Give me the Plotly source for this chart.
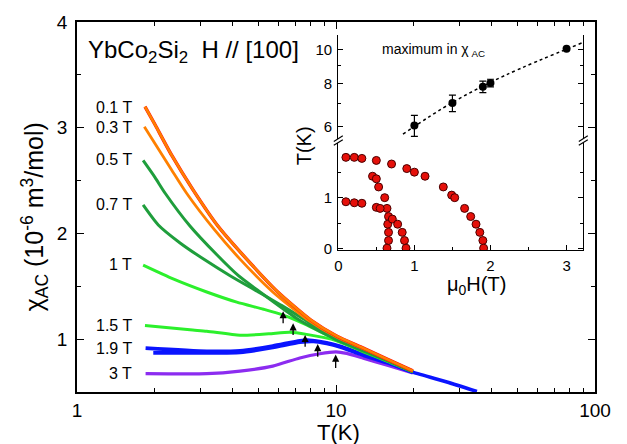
import numpy as np
import plotly.graph_objects as go

# ---------------- main panel: chi_AC(T) at several fields ----------------
T_01 = [1.83, 2.0, 2.32, 2.81, 3.5, 4.52, 5.96, 8.0, 10.05, 12.75, 15.9, 19.8]
chi_01 = [3.20, 3.03, 2.74, 2.41, 2.07, 1.757, 1.446, 1.18, 1.03, 0.915, 0.806, 0.70]

T_03 = [1.82, 2.32, 2.65, 3.38, 4.26, 5.7, 7.7, 10.05, 12.75, 15.9, 19.8]
chi_03 = [3.01, 2.60, 2.38, 2.04, 1.757, 1.446, 1.19, 1.02, 0.91, 0.802, 0.698]

T_05 = [1.80, 2.0, 2.19, 2.73, 3.46, 4.2, 5.09, 7.06, 8.5, 10.0, 12.75, 15.9, 19.8]
chi_05 = [2.69, 2.53, 2.38, 2.07, 1.80, 1.60, 1.446, 1.196, 1.085, 1.0, 0.895, 0.798, 0.695]

T_07 = [1.80, 2.06, 2.5, 3.07, 3.9, 4.94, 6.25, 7.5, 8.4, 10.0, 12.75, 15.9, 19.8]
chi_07 = [2.27, 2.08, 1.91, 1.76, 1.60, 1.455, 1.31, 1.19, 1.11, 0.995, 0.89, 0.795, 0.693]

T_10 = [1.80, 2.35, 3.17, 4.14, 5.25, 6.25, 7.7, 10.0, 12.75, 15.9, 19.8]
chi_10 = [1.70, 1.57, 1.446, 1.35, 1.283, 1.228, 1.135, 0.995, 0.887, 0.792, 0.692]

T_15 = [1.83, 2.73, 3.17, 4.26, 5.5, 6.63, 7.7, 10.05, 12.75, 15.9, 19.8]
chi_15 = [1.13, 1.088, 1.075, 1.037, 1.05, 1.065, 1.045, 0.985, 0.88, 0.788, 0.69]

T_19a = [1.84, 3.17, 4.26, 5.7, 7.25, 7.9, 9.2, 10.3, 12.8, 15.9, 19.8, 26.8, 35.0]
chi_19a = [0.915, 0.885, 0.89, 0.935, 0.985, 0.99, 0.965, 0.935, 0.855, 0.78, 0.688, 0.595, 0.505]

T_19b = [1.97, 3.17, 4.26, 5.7, 7.25, 8.2, 9.2, 10.3, 12.8, 15.9, 19.8]
chi_19b = [0.87, 0.87, 0.875, 0.92, 0.97, 0.978, 0.958, 0.928, 0.845, 0.773, 0.684]

T_30 = [1.84, 3.17, 4.26, 5.7, 7.25, 8.66, 10.0, 11.0, 12.75, 15.9, 19.8]
chi_30 = [0.673, 0.673, 0.698, 0.745, 0.822, 0.862, 0.88, 0.865, 0.82, 0.75, 0.68]

field_labels = ["0.1 T", "0.3 T", "0.5 T", "0.7 T", "1 T", "1.5 T", "1.9 T", "3 T"]
label_chi = [3.195, 3.0, 2.70, 2.27, 1.705, 1.128, 0.907, 0.673]

# arrows marking the susceptibility maxima
arrow_T = [6.25, 6.83, 7.6, 8.5, 9.97]
arrow_tip = [1.265, 1.15, 1.04, 0.953, 0.854]
arrow_tail = [1.135, 1.025, 0.915, 0.82, 0.714]

# ---------------- inset: H-T phase diagram ----------------
# upper boundary
H_a = [0.10, 0.21, 0.31, 0.50, 0.70, 0.90, 1.00, 1.14, 1.38, 1.49, 1.53, 1.66, 1.74, 1.81, 1.86, 1.90, 1.91]
T_a = [1.79, 1.79, 1.77, 1.73, 1.66, 1.57, 1.50, 1.42, 1.21, 1.05, 1.00, 0.79, 0.63, 0.48, 0.32, 0.16, 0.01]
# middle boundary
H_b = [0.45, 0.50, 0.53, 0.61, 0.64, 0.66, 0.65, 0.66, 0.66, 0.64]
T_b = [1.42, 1.37, 1.21, 1.00, 0.79, 0.63, 0.48, 0.32, 0.16, 0.01]
# lower boundary
H_c = [0.10, 0.21, 0.31, 0.50, 0.55, 0.71, 0.78, 0.84, 0.87, 0.89]
T_c = [0.92, 0.90, 0.89, 0.81, 0.79, 0.58, 0.48, 0.32, 0.16, 0.01]

# maximum in chi_AC
H_max = [1.0, 1.5, 1.9, 2.0, 3.0]
T_max = [6.05, 7.02, 7.82, 8.02, 10.06]
T_max_err = [0.42, 0.38, 0.3, 0.2, 0.08]
H_fit = [0.85, 1.5, 2.2, 3.2]
T_fit = [5.72, 7.05, 8.45, 10.45]

# ---------------- geometry ----------------
W, H = 627, 444
ML, MR, MT, MB = 77, 32, 17, 52
PW, PH = W - ML - MR, H - MT - MB


def px(xp):
    return (xp - ML) / PW


def py(yp):
    return (H - MB - yp) / PH


FONT = "Liberation Sans, Arial, Helvetica, sans-serif"
ORANGE = "#ff8000"
RED = "#ff1010"
DKGREEN = "#1f9e3c"
LTGREEN = "#2cf02c"
BLUE = "#0a14ff"
PURPLE = "#8c2cf0"

fig = go.Figure()


def curve(T, chi, color, width):
    fig.add_trace(go.Scatter(
        x=T, y=chi, mode="lines", xaxis="x", yaxis="y",
        line=dict(color=color, width=width, shape="spline", smoothing=0.6),
        showlegend=False, hoverinfo="skip"))


curve(T_30, chi_30, PURPLE, 3.2)
curve(T_19a, chi_19a, BLUE, 3.6)
curve(T_19b, chi_19b, BLUE, 3.6)
curve(T_15, chi_15, LTGREEN, 3.0)
curve(T_10, chi_10, LTGREEN, 3.0)
curve(T_07, chi_07, DKGREEN, 3.0)
curve(T_05, chi_05, DKGREEN, 3.0)
curve(T_03, chi_03, ORANGE, 2.8)
curve(T_01, chi_01, RED, 3.4)
curve(T_01, chi_01, ORANGE, 2.6)

# inset: phase boundaries
for Hs, Ts in [(H_a, T_a), (H_b, T_b), (H_c, T_c)]:
    fig.add_trace(go.Scatter(
        x=Hs, y=Ts, mode="markers", xaxis="x2", yaxis="y2",
        marker=dict(size=8, color="#e5100a", line=dict(width=1, color="#4a0000")),
        showlegend=False, hoverinfo="skip"))

# inset: fit through maxima and data with error bars
fig.add_trace(go.Scatter(
    x=H_fit, y=T_fit, mode="lines", xaxis="x2", yaxis="y3",
    line=dict(color="black", width=1.5, dash="dot", shape="spline"),
    showlegend=False, hoverinfo="skip"))
fig.add_trace(go.Scatter(
    x=H_max, y=T_max, mode="markers", xaxis="x2", yaxis="y3",
    marker=dict(size=8, color="black"),
    error_y=dict(type="data", array=T_max_err, color="black", thickness=1.2, width=3.5),
    showlegend=False, hoverinfo="skip"))

ax_common = dict(showgrid=False, zeroline=False, showline=True, linecolor="black",
                 color="black")

annotations = []
for lab, yv in zip(field_labels, label_chi):
    annotations.append(dict(text=lab, xref="paper", yref="y", x=px(134), y=yv,
                            xanchor="right", yanchor="middle", showarrow=False,
                            font=dict(size=16, family=FONT, color="black")))

for t, tip, tail in zip(arrow_T, arrow_tip, arrow_tail):
    annotations.append(dict(text="", xref="x", yref="y", x=np.log10(t), y=tip,
                            axref="x", ayref="y", ax=np.log10(t), ay=tail,
                            showarrow=True, arrowhead=2, arrowsize=1.1,
                            arrowwidth=1.3, arrowcolor="black"))

annotations += [
    dict(text="YbCo<sub>2</sub>Si<sub>2</sub>  H // [100]", xref="paper", yref="paper",
         x=px(86), y=py(47), xanchor="left", yanchor="middle", showarrow=False,
         font=dict(size=24, family=FONT, color="black")),
    dict(text="T(K)", xref="paper", yref="paper", x=px(338), y=py(433),
         xanchor="center", yanchor="middle", showarrow=False,
         font=dict(size=22, family=FONT, color="black")),
    dict(text="χ<sub>AC</sub> (10<sup>-6</sup> m<sup>3</sup>/mol)", xref="paper",
         yref="paper", x=px(35), y=py(215), textangle=-90,
         xanchor="center", yanchor="middle", showarrow=False,
         font=dict(size=25, family=FONT, color="black")),
    dict(text="maximum in χ<sub> AC</sub>", xref="paper", yref="paper",
         x=px(380), y=py(45), xanchor="left", yanchor="middle", showarrow=False,
         font=dict(size=14, family=FONT, color="black")),
    dict(text="T(K)", xref="paper", yref="paper", x=px(304), y=py(143), textangle=-90,
         xanchor="center", yanchor="middle", showarrow=False,
         font=dict(size=20, family=FONT, color="black")),
    dict(text="μ<sub>0</sub>H(T)", xref="paper", yref="paper", x=px(476), y=py(284),
         xanchor="center", yanchor="middle", showarrow=False,
         font=dict(size=20, family=FONT, color="black")),
]

# axis break marks on the inset
shapes = []
for xb in (338.3, 583.3):
    for yb in (135.2, 139.2):
        shapes.append(dict(type="line", xref="paper", yref="paper",
                           x0=px(xb - 4.5), y0=py(yb + 2.8), x1=px(xb + 4.5), y1=py(yb - 2.8),
                           line=dict(color="black", width=1.2)))

fig.update_layout(
    width=W, height=H,
    margin=dict(l=ML, r=MR, t=MT, b=MB),
    paper_bgcolor="white", plot_bgcolor="white",
    font=dict(family=FONT, color="black"),
    xaxis=dict(**ax_common, type="log", range=[0, 2], domain=[0, 1], anchor="y",
               linewidth=1.6, mirror="ticks", ticks="inside", ticklen=7, tickwidth=1.4,
               tickvals=[1, 10, 100], ticktext=["1", "10", "100"],
               tickfont=dict(size=19), ticklabelstandoff=0,
               minor=dict(ticks="inside", ticklen=4, tickwidth=1.2,
                          tickvals=[2, 3, 4, 5, 6, 7, 8, 9, 20, 30, 40, 50, 60, 70, 80, 90])),
    yaxis=dict(**ax_common, range=[0.5, 4], domain=[0, 1], anchor="x",
               linewidth=1.6, mirror="ticks", ticks="inside", ticklen=7, tickwidth=1.4,
               tickvals=[1, 2, 3, 4], tickfont=dict(size=19), ticklabelstandoff=4,
               minor=dict(ticks="inside", ticklen=4, tickwidth=1.2,
                          tickvals=[1.5, 2.5, 3.5])),
    xaxis2=dict(**ax_common, range=[0, 3.22], domain=[px(338.3), px(583.3)], anchor="y2",
                linewidth=1.3, ticks="inside", ticklen=5, tickwidth=1.2,
                tickvals=[0, 1, 2, 3], tickfont=dict(size=15), ticklabelstandoff=2,
                minor=dict(ticks="inside", ticklen=3, tickwidth=1, tickvals=[0.5, 1.5, 2.5])),
    xaxis3=dict(**ax_common, range=[0, 3.22], domain=[px(338.3), px(583.3)], anchor="y3",
                overlaying="x2", side="top", linewidth=1.3, ticks="inside", ticklen=5,
                tickwidth=1.2, tickvals=[0, 1, 2, 3], showticklabels=False,
                minor=dict(ticks="inside", ticklen=3, tickwidth=1, tickvals=[0.5, 1.5, 2.5])),
    yaxis2=dict(**ax_common, range=[-0.03, 2.08], domain=[py(248.3), py(139.2)], anchor="x2",
                linewidth=1.3, mirror="ticks", ticks="inside", ticklen=5, tickwidth=1.2,
                tickvals=[0, 1], tickfont=dict(size=15), ticklabelstandoff=2,
                minor=dict(ticks="inside", ticklen=3, tickwidth=1, tickvals=[0.5, 1.5])),
    yaxis3=dict(**ax_common, type="log", range=[np.log10(5.55), np.log10(11.03)],
                domain=[py(135.2), py(30)], anchor="x2",
                linewidth=1.3, mirror="ticks", ticks="inside", ticklen=5, tickwidth=1.2,
                tickvals=[6, 8, 10], ticktext=["6", "8", "10"], tickfont=dict(size=15),
                ticklabelstandoff=2,
                minor=dict(ticks="inside", ticklen=3, tickwidth=1, tickvals=[7, 9])),
    annotations=annotations,
    shapes=shapes,
)

fig.write_html("out.html")
